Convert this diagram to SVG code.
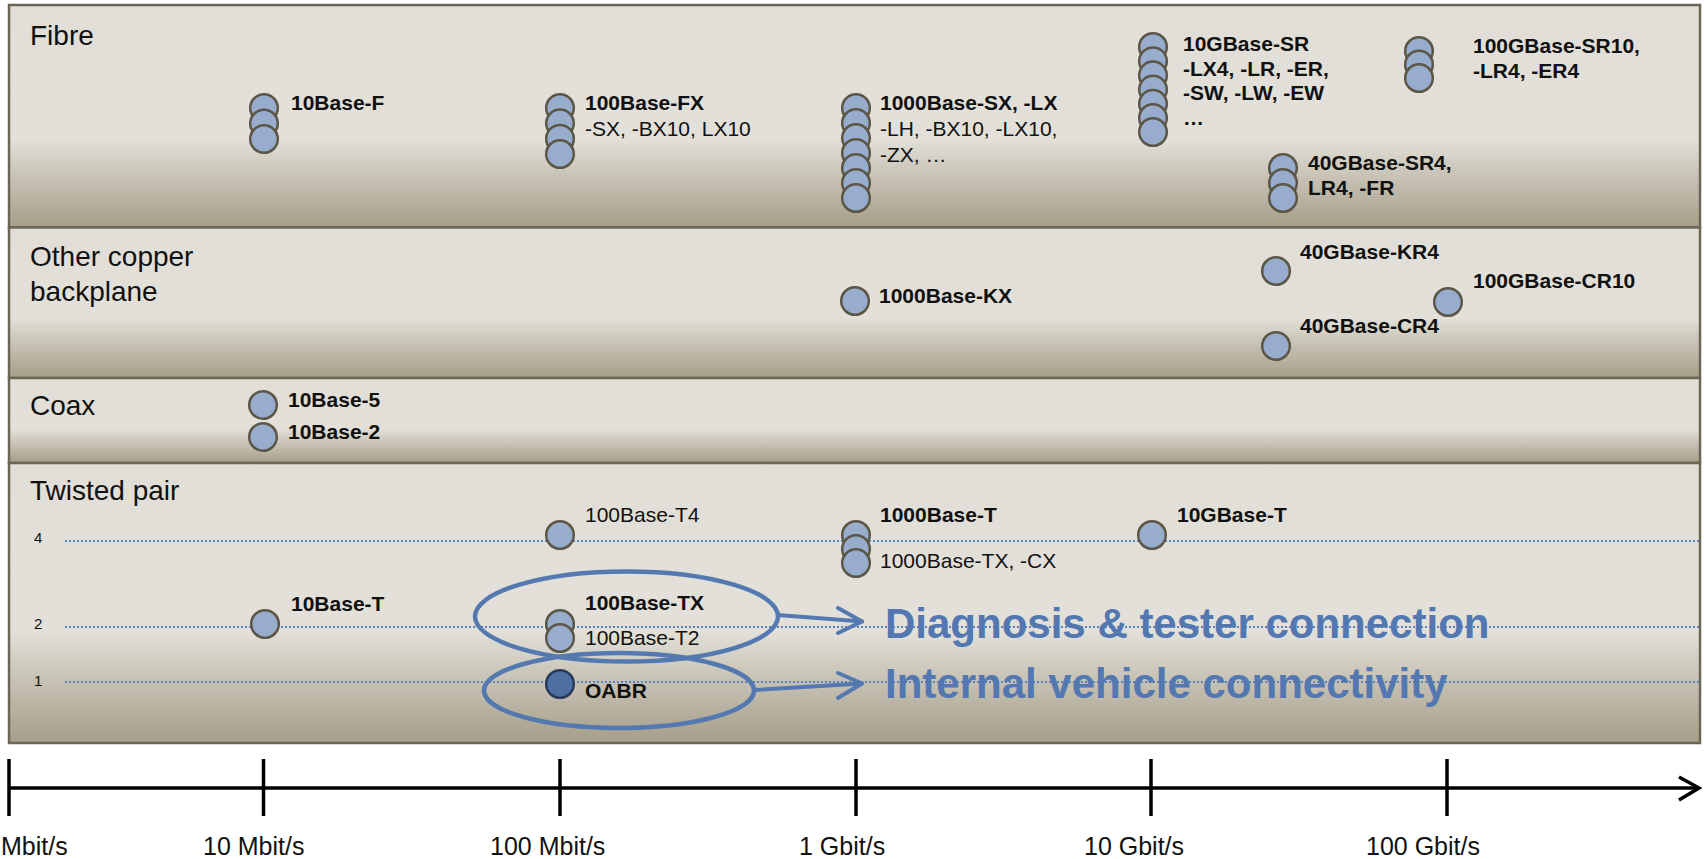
<svg xmlns="http://www.w3.org/2000/svg" width="1704" height="859" viewBox="0 0 1704 859">
<defs>
<linearGradient id="pg" x1="0" y1="0" x2="0" y2="1">
<stop offset="0" stop-color="#E0DED7"/>
<stop offset="0.6" stop-color="#E2E0D9"/>
<stop offset="0.72" stop-color="#CFCBBF"/>
<stop offset="0.88" stop-color="#B8B1A1"/>
<stop offset="1" stop-color="#A69E88"/>
</linearGradient>
<style>
.panel{fill:url(#pg);stroke:#6B6655;stroke-width:2.5}
.t{font-family:"Liberation Sans",Arial,sans-serif;fill:#111}
.title{font-size:28px}
.b{font-size:21px;font-weight:bold}
.r{font-size:21px}
.n{font-size:15px}
.ax{font-size:25px}
.c{fill:#98ADCE;stroke:#5B5646;stroke-width:2.5}
.cd{fill:#4F6FA3;stroke:#2A3B5A;stroke-width:2.5}
.dot{stroke:#5B82C0;stroke-width:2;stroke-dasharray:2 2;fill:none}
.ring{fill:none;stroke:#5479B0;stroke-width:4.5}
.arr{fill:none;stroke:#5479B0;stroke-width:4;stroke-linecap:round;stroke-linejoin:round}
.big{font-family:"Liberation Sans",Arial,sans-serif;font-size:42px;font-weight:bold;fill:#5377B0}
.axis{stroke:#000;stroke-width:3.5;fill:none}
</style>
</defs>

<g id="panels">
<rect class="panel" x="9" y="5" width="1691" height="222.5"/>
<rect class="panel" x="9" y="227.5" width="1691" height="150.5"/>
<rect class="panel" x="9" y="378" width="1691" height="85"/>
<rect class="panel" x="9" y="463" width="1691" height="280"/>
<text class="t title" x="30" y="45">Fibre</text>
<text class="t title" x="30" y="266">Other copper</text>
<text class="t title" x="30" y="301">backplane</text>
<text class="t title" x="30" y="415">Coax</text>
<text class="t title" x="30" y="500">Twisted pair</text>
</g>

<g id="pair-lines">
<line class="dot" x1="65" y1="541" x2="1699" y2="541"/>
<line class="dot" x1="65" y1="627" x2="1699" y2="627"/>
<line class="dot" x1="65" y1="682" x2="1699" y2="682"/>
<text class="t n" x="34" y="543">4</text>
<text class="t n" x="34" y="629">2</text>
<text class="t n" x="34" y="686">1</text>
</g>

<g id="n-10base-f">
<circle class="c" cx="264" cy="108" r="13.8"/>
<circle class="c" cx="264" cy="123.5" r="13.8"/>
<circle class="c" cx="264" cy="139" r="13.8"/>
<text class="t b" x="291" y="110">10Base-F</text>
</g>

<g id="n-100base-fx">
<circle class="c" cx="560" cy="108" r="13.8"/>
<circle class="c" cx="560" cy="123.3" r="13.8"/>
<circle class="c" cx="560" cy="138.7" r="13.8"/>
<circle class="c" cx="560" cy="154" r="13.8"/>
<text class="t b" x="585" y="110">100Base-FX</text>
<text class="t r" x="585" y="136">-SX, -BX10, LX10</text>
</g>

<g id="n-1000base-sx">
<circle class="c" cx="856" cy="108" r="13.8"/>
<circle class="c" cx="856" cy="123" r="13.8"/>
<circle class="c" cx="856" cy="138" r="13.8"/>
<circle class="c" cx="856" cy="153" r="13.8"/>
<circle class="c" cx="856" cy="168" r="13.8"/>
<circle class="c" cx="856" cy="183" r="13.8"/>
<circle class="c" cx="856" cy="198" r="13.8"/>
<text class="t b" x="880" y="110">1000Base-SX, -LX</text>
<text class="t r" x="880" y="136">-LH, -BX10, -LX10,</text>
<text class="t r" x="880" y="162">-ZX, …</text>
</g>

<g id="n-10gbase-sr">
<circle class="c" cx="1153" cy="47" r="13.8"/>
<circle class="c" cx="1153" cy="61.2" r="13.8"/>
<circle class="c" cx="1153" cy="75.4" r="13.8"/>
<circle class="c" cx="1153" cy="89.6" r="13.8"/>
<circle class="c" cx="1153" cy="103.8" r="13.8"/>
<circle class="c" cx="1153" cy="118" r="13.8"/>
<circle class="c" cx="1153" cy="132" r="13.8"/>
<text class="t b" x="1183" y="51">10GBase-SR</text>
<text class="t b" x="1183" y="76">-LX4, -LR, -ER,</text>
<text class="t b" x="1183" y="100">-SW, -LW, -EW</text>
<text class="t b" x="1183" y="125">…</text>
</g>

<g id="n-100gbase-sr10">
<circle class="c" cx="1419" cy="51" r="13.8"/>
<circle class="c" cx="1419" cy="64.5" r="13.8"/>
<circle class="c" cx="1419" cy="78" r="13.8"/>
<text class="t b" x="1473" y="53">100GBase-SR10,</text>
<text class="t b" x="1473" y="78">-LR4, -ER4</text>
</g>

<g id="n-40gbase-sr4">
<circle class="c" cx="1283" cy="168" r="13.8"/>
<circle class="c" cx="1283" cy="183" r="13.8"/>
<circle class="c" cx="1283" cy="198" r="13.8"/>
<text class="t b" x="1308" y="170">40GBase-SR4,</text>
<text class="t b" x="1308" y="195">LR4, -FR</text>
</g>

<g id="n-1000base-kx">
<circle class="c" cx="855" cy="301" r="13.8"/>
<text class="t b" x="879" y="303">1000Base-KX</text>
</g>

<g id="n-40gbase-kr4">
<circle class="c" cx="1276" cy="271" r="13.8"/>
<text class="t b" x="1300" y="259">40GBase-KR4</text>
</g>

<g id="n-100gbase-cr10">
<circle class="c" cx="1448" cy="302" r="13.8"/>
<text class="t b" x="1473" y="288">100GBase-CR10</text>
</g>

<g id="n-40gbase-cr4">
<circle class="c" cx="1276" cy="346" r="13.8"/>
<text class="t b" x="1300" y="333">40GBase-CR4</text>
</g>

<g id="n-10base-5">
<circle class="c" cx="263" cy="405" r="13.8"/>
<text class="t b" x="288" y="407">10Base-5</text>
</g>

<g id="n-10base-2">
<circle class="c" cx="263" cy="437" r="13.8"/>
<text class="t b" x="288" y="439">10Base-2</text>
</g>

<g id="n-100base-t4">
<circle class="c" cx="560" cy="535" r="13.8"/>
<text class="t r" x="585" y="522">100Base-T4</text>
</g>

<g id="n-1000base-t">
<circle class="c" cx="856" cy="535" r="13.8"/>
<circle class="c" cx="856" cy="549" r="13.8"/>
<circle class="c" cx="856" cy="563" r="13.8"/>
<text class="t b" x="880" y="522">1000Base-T</text>
<text class="t r" x="880" y="568">1000Base-TX, -CX</text>
</g>

<g id="n-10gbase-t">
<circle class="c" cx="1152" cy="535" r="13.8"/>
<text class="t b" x="1177" y="522">10GBase-T</text>
</g>

<g id="n-10base-t">
<circle class="c" cx="265" cy="624" r="13.8"/>
<text class="t b" x="291" y="611">10Base-T</text>
</g>

<g id="n-100base-tx">
<circle class="c" cx="560" cy="624" r="13.8"/>
<circle class="c" cx="560" cy="638" r="13.8"/>
<text class="t b" x="585" y="610">100Base-TX</text>
<text class="t r" x="585" y="645">100Base-T2</text>
</g>

<g id="n-oabr">
<circle class="cd" cx="560" cy="684" r="13.8"/>
<text class="t b" x="585" y="698">OABR</text>
</g>

<g id="ring-diagnosis">
<ellipse class="ring" cx="626.5" cy="616.5" rx="151.5" ry="45"/>
<text class="big" x="885" y="638">Diagnosis &amp; tester connection</text>
</g>

<g id="ring-internal">
<ellipse class="ring" cx="619" cy="690.5" rx="135" ry="37.5"/>
<text class="big" x="885" y="698">Internal vehicle connectivity</text>
</g>

<g id="connectors">
<path class="arr" d="M778 615 L862 621.5"/>
<path class="arr" d="M838 608 L862 621.5 L838 633"/>
<path class="arr" d="M754 690 L862 683.5"/>
<path class="arr" d="M838 673 L862 683.5 L838 698"/>
</g>

<g id="axis">
<line class="axis" x1="9" y1="788" x2="1698" y2="788"/>
<path class="axis" d="M1679 777 L1699 788 L1679 800" stroke-linejoin="miter"/>
<line class="axis" x1="9" y1="759" x2="9" y2="816" stroke-width="3"/>
<line class="axis" x1="263.5" y1="759" x2="263.5" y2="816" stroke-width="3"/>
<line class="axis" x1="560" y1="759" x2="560" y2="816" stroke-width="3"/>
<line class="axis" x1="856" y1="759" x2="856" y2="816" stroke-width="3"/>
<line class="axis" x1="1151" y1="759" x2="1151" y2="816" stroke-width="3"/>
<line class="axis" x1="1447" y1="759" x2="1447" y2="816" stroke-width="3"/>
<text class="t ax" x="1" y="855">Mbit/s</text>
<text class="t ax" x="203" y="855">10 Mbit/s</text>
<text class="t ax" x="490" y="855">100 Mbit/s</text>
<text class="t ax" x="799" y="855">1 Gbit/s</text>
<text class="t ax" x="1084" y="855">10 Gbit/s</text>
<text class="t ax" x="1366" y="855">100 Gbit/s</text>
</g>
</svg>
